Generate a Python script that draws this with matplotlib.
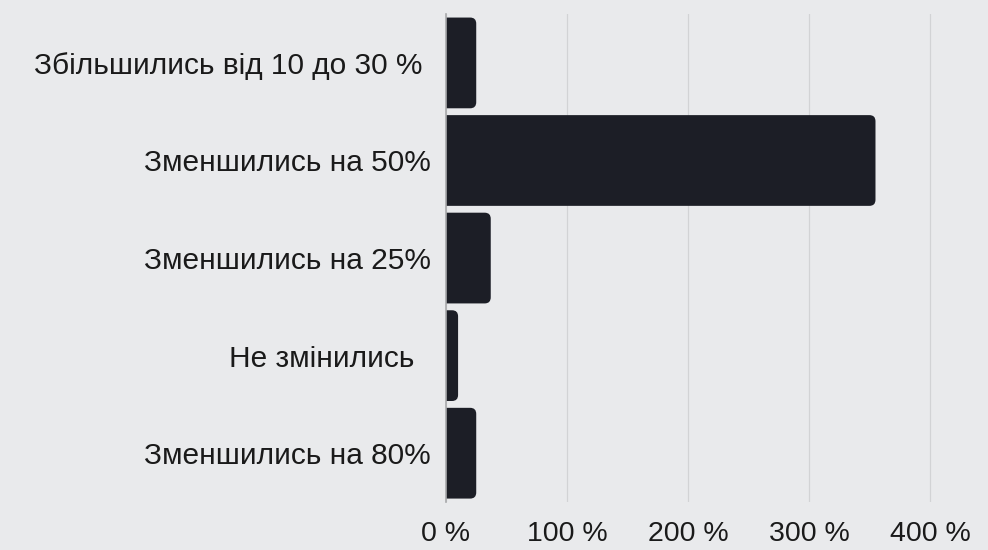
import matplotlib
matplotlib.use("Agg")
import matplotlib.pyplot as plt
from matplotlib.patches import FancyBboxPatch
from matplotlib.ticker import FuncFormatter

categories = ["Збільшились від 10 до 30 % ", "Зменшились на 50%", "Зменшились на 25%",
              "Не змінились  ", "Зменшились на 80%"]
values = [25, 355, 37, 10, 25]
xticks = [0, 100, 200, 300, 400]

bg = "#e9eaec"
bar_color = "#1c1e26"
text_color = "#1a1a1a"

plt.rcParams['font.family'] = ['Liberation Sans', 'DejaVu Sans']

fig = plt.figure(figsize=(9.88, 5.5), dpi=100, facecolor=bg)
ax = fig.add_axes([0.4514, 0.0873, 0.5486, 0.887], facecolor=bg)

pos = list(range(len(categories)))
bars = ax.barh(pos, values, height=0.93, color=bar_color)
ax.set_xlim(0, 448)
ax.set_ylim(len(categories) - 0.5, -0.5)

# swap plain bars for ones with rounded right corners
r = 5
for b in bars:
    x0, y0 = b.get_x(), b.get_y()
    w, h = b.get_width(), b.get_height()
    b.set_visible(False)
    p = FancyBboxPatch((x0 - r, y0), w + r, h,
                       boxstyle=f"round,pad=0,rounding_size={r}",
                       mutation_aspect=0.0125, facecolor=bar_color,
                       edgecolor="none", clip_on=True, zorder=3)
    ax.add_patch(p)

ax.set_yticks(pos)
ax.set_yticklabels(categories, fontsize=21.5, color=text_color)
ax.set_xticks(xticks)
ax.xaxis.set_major_formatter(FuncFormatter(lambda v, _: f"{v:.0f} %"))
ax.tick_params(axis='x', labelsize=20.5, colors=text_color, length=0, pad=14)
ax.tick_params(axis='y', length=0, pad=11)

ax.grid(axis='x', color="#d2d3d5", linewidth=0.9)
ax.set_axisbelow(True)
for s in ["top", "right", "bottom"]:
    ax.spines[s].set_visible(False)
ax.spines["left"].set_color("#a8a9ab")
ax.spines["left"].set_linewidth(1.2)
ax.spines["left"].set_zorder(4)

fig.savefig("out.png", dpi=100, facecolor=bg)
